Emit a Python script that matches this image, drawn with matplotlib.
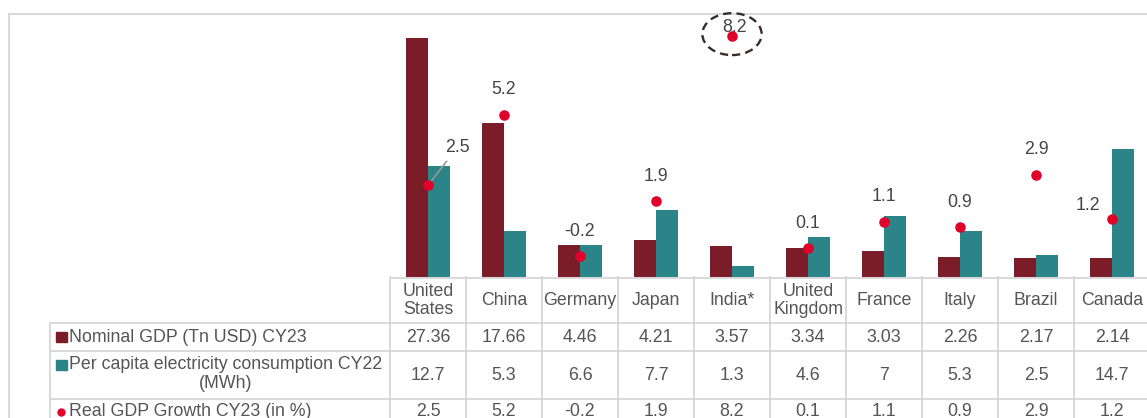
import matplotlib
matplotlib.use("Agg")
import matplotlib.pyplot as plt
import numpy as np
from matplotlib import transforms
from matplotlib.patches import Ellipse, Rectangle
from matplotlib.lines import Line2D

# ---------------- data ----------------
countries = ["United\nStates", "China", "Germany", "Japan", "India*",
             "United\nKingdom", "France", "Italy", "Brazil", "Canada"]
gdp_values = [27.36, 17.66, 4.46, 4.21, 3.57, 3.34, 3.03, 2.26, 2.17, 2.14]
elec_values = [12.7, 5.3, 6.6, 7.7, 1.3, 4.6, 7, 5.3, 2.5, 14.7]
growth_values = [2.5, 5.2, -0.2, 1.9, 8.2, 0.1, 1.1, 0.9, 2.9, 1.2]
# bar heights as drawn in the picture (Germany bars are drawn shorter)
gdp_bar_heights = [27.36, 17.66, 3.65, 4.21, 3.57, 3.34, 3.03, 2.26, 2.17, 2.14]
elec_bar_heights = [12.7, 5.3, 3.65, 7.7, 1.3, 4.6, 7.0, 5.3, 2.5, 14.7]
row_labels = ["Nominal GDP (Tn USD) CY23",
              "Per capita electricity consumption CY22",
              "(MWh)",
              "Real GDP Growth CY23 (in %)"]

# ---------------- style ----------------
W, H = 1147, 418
MAROON = "#7B1D28"
TEAL = "#2A8488"
RED = "#E0002A"
GRID = "#D9D9D9"
TXT = "#555555"
LBL = "#444444"
FONT = "Liberation Sans"
FS = 12.8
plt.rcParams["font.family"] = [FONT, "DejaVu Sans"]

fig = plt.figure(figsize=(W / 100, H / 100), dpi=100)
fig.patch.set_facecolor("white")

# pixel overlay for table/frame
ov = fig.add_axes([0, 0, 1, 1])
ov.set_xlim(0, W)
ov.set_ylim(H, 0)
ov.axis("off")
ov.set_zorder(0)

# chart axes (pixel geometry: x 390..1150, y 15..277)
x_left, x_right, y_top, y_base = 390, 1150, 15, 277
ax = fig.add_axes([x_left / W, (H - y_base) / H, (x_right - x_left) / W,
                   (y_base - y_top) / H])
ax.set_zorder(1)
ax.patch.set_visible(False)
n = len(countries)
x = np.arange(n)
bw = 0.283
ax.bar(x - bw / 2, gdp_bar_heights, bw, color=MAROON, zorder=2)
ax.bar(x + bw / 2, elec_bar_heights, bw, color=TEAL, zorder=2)
ax.set_xlim(-0.5, n - 0.5)
ax.set_ylim(0, 30)
ax.axis("off")

ax2 = ax.twinx()
ax2.set_zorder(2)
ax2.patch.set_visible(False)
ax2.set_ylim(-1, 9)
ax2.axis("off")
ax2.plot(x, growth_values, "o", color=RED, ms=7.6, mec="none", zorder=4,
         clip_on=False)

label_offsets = {0: (21, 27), 4: (2, 6), 9: (-17, 10)}
for i, v in enumerate(growth_values):
    dx, dy = label_offsets.get(i, (0, 18))
    kw = {}
    if i == 0:
        kw["arrowprops"] = dict(arrowstyle="-", color="#999999", lw=1.2,
                                shrinkA=2, shrinkB=0)
    ax2.annotate(f"{v:g}", (i, v), xytext=(dx, dy), textcoords="offset points",
                 ha="center", va="center", fontsize=FS, color=LBL,
                 zorder=1, annotation_clip=False, **kw)

# dashed ellipse highlighting India
ell = Ellipse((4, 8.27), 0.78, 1.6, fill=False, ls=(0, (3.5, 2.2)), lw=1.7,
              edgecolor="#3A2C2C", clip_on=False, zorder=3)
ax2.add_patch(ell)

# ---------------- frame ----------------
ov.add_line(Line2D([9, W], [14, 14], color=GRID, lw=1.5))
ov.add_line(Line2D([9, 9], [14, H], color=GRID, lw=1.5))

# ---------------- table ----------------
bt = transforms.blended_transform_factory(ax.transData, ov.transData)
row_y = [322.7, 351, 399.3]
lw_g = 1.4
# header top line
ov.add_line(Line2D([-0.5, n - 0.5], [278, 278], color=GRID, lw=lw_g,
                   transform=bt))
for yy in row_y:
    ov.add_line(Line2D([50, W + 10], [yy, yy], color=GRID, lw=lw_g))
for b in range(n + 1):
    ov.add_line(Line2D([b - 0.5, b - 0.5], [277, H], color=GRID, lw=lw_g,
                       transform=bt))
ov.add_line(Line2D([50, 50], [row_y[0], H], color=GRID, lw=lw_g))

for i in range(n):
    ov.text(i, 300.5, countries[i], transform=bt, ha="center", va="center",
            fontsize=FS, color=TXT, linespacing=1.05)
    ov.text(i, 337, f"{gdp_values[i]:g}", transform=bt, ha="center",
            va="center", fontsize=FS, color=TXT)
    ov.text(i, 376, f"{elec_values[i]:g}", transform=bt, ha="center",
            va="center", fontsize=FS, color=TXT)
    ov.text(i, 412, f"{growth_values[i]:g}", transform=bt, ha="center",
            va="center", fontsize=FS, color=TXT)

# row labels with legend keys
ov.add_patch(Rectangle((56, 331.5), 10.5, 10.5, color=MAROON))
ov.text(69, 337, row_labels[0], ha="left", va="center", fontsize=FS, color=TXT)
ov.add_patch(Rectangle((56, 359.5), 10.5, 10.5, color=TEAL))
ov.text(69, 364.5, row_labels[1], ha="left", va="center", fontsize=FS, color=TXT)
ov.text(226, 383.5, row_labels[2], ha="center", va="center", fontsize=FS,
        color=TXT)
ov.plot([61], [411.5], "o", color=RED, ms=6, mec="none")
ov.text(69, 412, row_labels[3], ha="left", va="center", fontsize=FS, color=TXT)

fig.savefig("out.png", dpi=100)
